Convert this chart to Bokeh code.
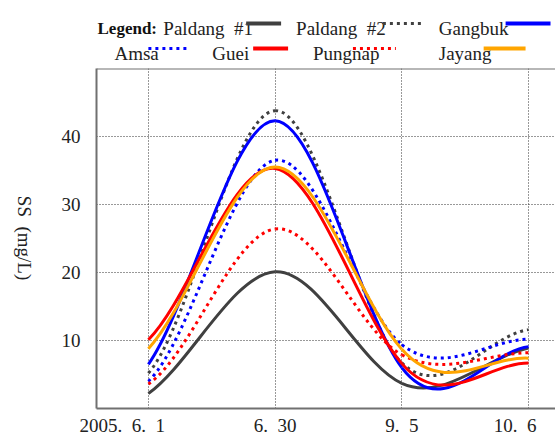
import numpy as np
from bokeh.plotting import figure
from bokeh.models import Range1d, FixedTicker, Span, ColumnDataSource
from bokeh.layouts import column
from bokeh.core.properties import value
from bokeh.embed import file_html
from bokeh.resources import INLINE

# ---------------- data ----------------
NB = "\u00a0"
dates = ["2005." + NB * 2 + "6." + NB * 2 + "1", "6." + NB * 2 + "30", "9." + NB * 2 + "5", "10." + NB * 2 + "6"]
x_idx = [0, 1, 2, 3]

paldang1 = [2.2, 20.1, 3.7, 8.9]
paldang2 = [5.2, 43.8, 6.7, 11.6]
gangbuk = [6.5, 42.3, 6.0, 9.1]
amsa = [4.0, 36.5, 9.4, 10.2]
guei = [10.1, 35.3, 6.6, 6.7]
pungnap = [3.6, 26.4, 7.9, 8.2]
jayang = [8.8, 35.5, 8.7, 7.4]

names = ["Paldang" + NB * 2 + "#1", "Paldang" + NB * 2 + "#2", "Gangbuk", "Amsa", "Guei", "Pungnap", "Jayang"]
series = [paldang1, paldang2, gangbuk, amsa, guei, pungnap, jayang]

y_ticks = [10, 20, 30, 40]
y_title = "SS" + NB * 2 + "(mg/L)"

# ---------------- styles ----------------
colors = ["#404040", "#404040", "#0000ff", "#0000ff", "#ff0000", "#ff0000", "#ffa500"]
dashes = ["solid", "3 4", "solid", "3 4", "solid", "3 4", "solid"]
tension = {"solid": 1.5, "3 4": 1.1}
FONT = "Liberation Serif"
# padding (non-breaking spaces) that shifts a centred tick label sideways
label_pad = [11, 0, 0, 4]
title_pad = 27


def smooth_segments(xs, ys, k):
    """Cubic Hermite (cardinal) segments expressed as Bezier control points."""
    xs = np.asarray(xs, float)
    ys = np.asarray(ys, float)
    yp = np.concatenate([[ys[0]], ys, [ys[-1]]])
    m = k * (yp[2:] - yp[:-2]) / 2.0
    h = np.diff(xs)
    return dict(
        x0=xs[:-1], y0=ys[:-1], x1=xs[1:], y1=ys[1:],
        cx0=xs[:-1] + h / 3.0, cy0=ys[:-1] + m[:-1] * h / 3.0,
        cx1=xs[1:] - h / 3.0, cy1=ys[1:] - m[1:] * h / 3.0,
    )


# ---------------- main plot ----------------
W = 555
LEG_H = 67
MAIN_H = 371
px_per_unit = 127.0
left_border = 95
frame_w = W - left_border
x_start = -52.0 / px_per_unit
x_end = x_start + frame_w / px_per_unit

p = figure(width=W, height=MAIN_H, output_backend="svg", toolbar_location=None,
           x_range=Range1d(x_start, x_end), y_range=Range1d(0, 50),
           min_border_left=left_border, min_border_right=0,
           min_border_top=1, min_border_bottom=28)
p.outline_line_color = None
p.background_fill_color = "white"
p.border_fill_color = "white"

frame_col = "#707070"

xa = p.xaxis[0]
xa.ticker = FixedTicker(ticks=x_idx)
xa.major_label_overrides = {i: d + NB * n for i, d, n in zip(x_idx, dates, label_pad)}
xa.major_label_text_font = FONT
xa.major_label_text_font_size = "19px"
xa.major_label_text_color = "#222222"
xa.major_label_standoff = 6
xa.major_tick_line_color = None
xa.minor_tick_line_color = None
xa.major_tick_out = 0
xa.major_tick_in = 0
xa.axis_line_color = frame_col
xa.axis_line_width = 2

ya = p.yaxis[0]
ya.ticker = FixedTicker(ticks=y_ticks)
ya.major_tick_line_color = None
ya.minor_tick_line_color = None
ya.major_tick_out = 0
ya.major_tick_in = 0
ya.major_label_standoff = 16
ya.major_label_text_font = FONT
ya.major_label_text_font_size = "19px"
ya.major_label_text_color = "#222222"
ya.axis_line_color = frame_col
ya.axis_line_width = 2
ya.axis_label = y_title + NB * title_pad
ya.axis_label_text_font = FONT
ya.axis_label_text_font_size = "19px"
ya.axis_label_text_font_style = "normal"
ya.axis_label_text_color = "#222222"
ya.axis_label_standoff = 34
ya.axis_label_align = "start"
try:
    ya.axis_label_orientation = -np.pi / 2
except Exception:
    pass

p.xgrid.ticker = FixedTicker(ticks=x_idx)
p.ygrid.ticker = FixedTicker(ticks=y_ticks)
for g in (p.xgrid[0], p.ygrid[0]):
    g.grid_line_color = "#333333"
    g.grid_line_dash = "1 2"
    g.grid_line_width = 1

p.add_layout(Span(location=50, dimension="width", line_color=frame_col, line_width=2))

for ys, c, d in zip(series, colors, dashes):
    src = ColumnDataSource(smooth_segments(x_idx, ys, tension[d]))
    p.bezier(x0="x0", y0="y0", x1="x1", y1="y1", cx0="cx0", cy0="cy0", cx1="cx1", cy1="cy1",
             source=src, line_color=c, line_width=3, line_dash=d, line_cap="butt")

# ---------------- legend strip ----------------
# the column layout aligns this strip's frame with the main frame (x 95..555)
lg = figure(width=W, height=LEG_H, output_backend="svg", toolbar_location=None,
            x_range=Range1d(left_border, W), y_range=Range1d(LEG_H, 0),
            min_border=0, x_axis_location=None, y_axis_location=None)
lg.outline_line_color = None
lg.grid.visible = False
lg.background_fill_color = "white"
lg.border_fill_color = "white"

text_x = [162, 295, 438, 113, 211, 312, 438]
text_y = [28, 28, 28, 53, 53, 53, 53]
line_x0 = [245, 382, 505, 147, 252, 352, 483]
line_x1 = [280, 423, 550, 188, 287, 395, 525]
line_y = [23, 23, 23, 48, 48, 48, 48]

lg.text(x=[96], y=[28], text=["Legend:"], text_font=value(FONT), text_font_style="bold",
        text_font_size="17px", text_baseline="alphabetic", text_align="left", text_color="#111111")
lg.text(x=text_x, y=text_y, text=names, text_font=value(FONT), text_font_size="19px",
        text_baseline="alphabetic", text_align="left", text_color="#222222")
for i in range(len(names)):
    lg.segment(x0=[line_x0[i]], y0=[line_y[i]], x1=[line_x1[i]], y1=[line_y[i]],
               line_color=colors[i], line_width=4 if dashes[i] == "solid" else 3,
               line_dash=dashes[i])

layout = column(lg, p, spacing=0)
open("out.html", "w").write(file_html(layout, INLINE))
